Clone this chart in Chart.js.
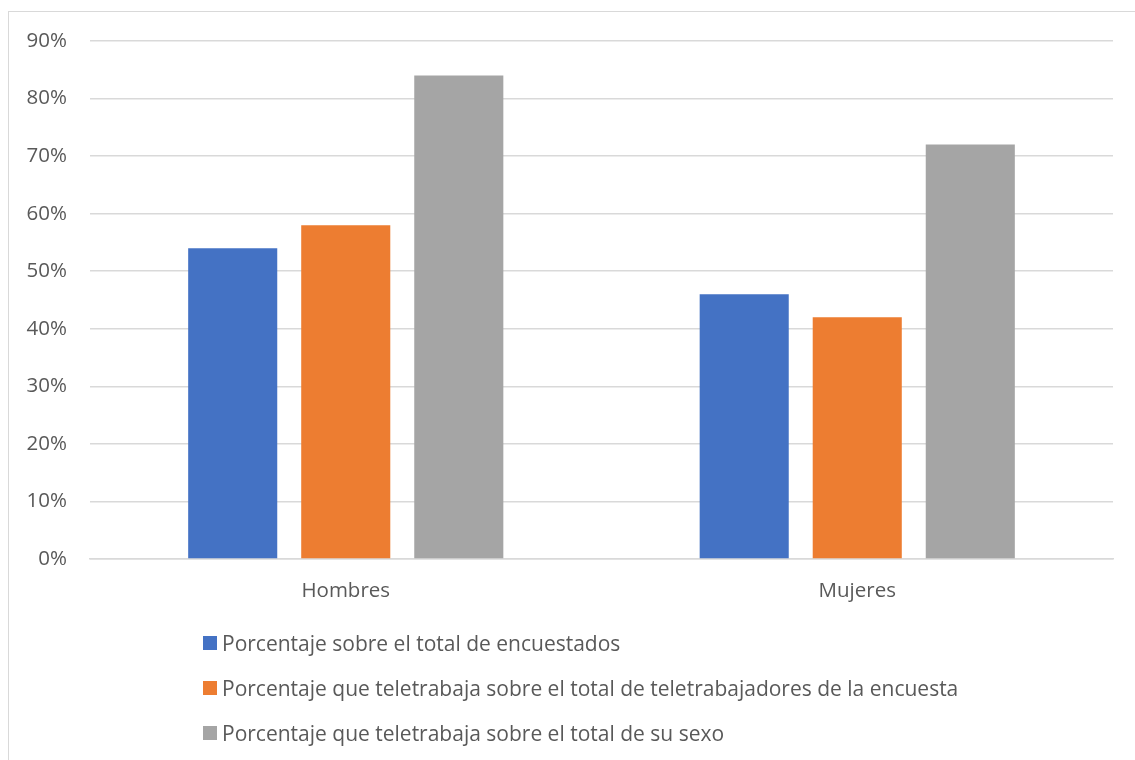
<!DOCTYPE html>
<html>
<head>
<meta charset="utf-8">
<script src="https://cdn.jsdelivr.net/npm/chart.js@4.4.1/dist/chart.umd.min.js"></script>
<style>
  html, body { margin: 0; padding: 0; background: #fff; }
  #wrap { position: relative; width: 1135px; height: 760px; overflow: hidden; }
  #frame { position: absolute; left: 8px; top: 11px; width: 1200px; height: 800px; border: 1.5px solid #d9d9d9; box-sizing: border-box; }
  #myChart { position: absolute; left: 0; top: 0; }
  #legend { position: absolute; left: 203px; top: 628px; font-family: "Open Sans", "Noto Sans", sans-serif; font-size: 21px; color: #595959; }
  #legend div { height: 45px; line-height: 30px; display: flex; align-items: flex-start; white-space: nowrap; }
  #legend span.box { display: inline-block; width: 14px; height: 14px; margin-right: 5px; margin-top: 8px; flex: none; }
</style>
</head>
<body>
<div id="wrap">
  <div id="frame"></div>
  <canvas id="myChart" width="1135" height="760"></canvas>
  <div id="legend"></div>
</div>
<script>
const categories = ["Hombres", "Mujeres"];
const seriesNames = [
  "Porcentaje sobre el total de encuestados",
  "Porcentaje que teletrabaja sobre el total de teletrabajadores de la encuesta",
  "Porcentaje que teletrabaja sobre el total de su sexo"
];
const totalEncuestados = [54, 46];
const totalTeletrabajadores = [58, 42];
const totalSexo = [84, 72];
const colors = ["#4472c4", "#ed7d31", "#a5a5a5"];

const values = [totalEncuestados, totalTeletrabajadores, totalSexo];
const datasets = seriesNames.map((name, i) => ({
  label: name,
  data: values[i],
  backgroundColor: colors[i],
  categoryPercentage: 0.663,
  barPercentage: 0.788
}));

const ctx = document.getElementById("myChart");
const chart = new Chart(ctx, {
  type: "bar",
  data: { labels: categories, datasets: datasets },
  options: {
    responsive: false,
    animation: false,
    layout: { padding: { left: 0, right: 22, top: 41, bottom: 141 } },
    plugins: { legend: { display: false }, tooltip: { enabled: false } },
    scales: {
      x: {
        grid: { display: false, drawTicks: false },
        border: { color: "#d9d9d9", width: 1.5 },
        ticks: { color: "#595959", font: { family: "Open Sans", size: 20.5 }, padding: 20 },
        afterFit: (s) => { s.height = 60; }
      },
      y: {
        min: 0,
        max: 90,
        grid: { color: "#d9d9d9", lineWidth: 1.5, drawTicks: false },
        border: { display: false },
        ticks: {
          stepSize: 10,
          color: "#595959",
          font: { family: "Open Sans", size: 20.5 },
          padding: 23,
          callback: (v) => v + "%"
        },
        afterFit: (s) => { s.width = 90; }
      }
    }
  }
});

// legend below the chart, one row per series
const legend = document.getElementById("legend");
seriesNames.forEach((name, i) => {
  const row = document.createElement("div");
  row.innerHTML = `<span class="box" style="background:${colors[i]}"></span>${name}`;
  legend.appendChild(row);
});
</script>
</body>
</html>
